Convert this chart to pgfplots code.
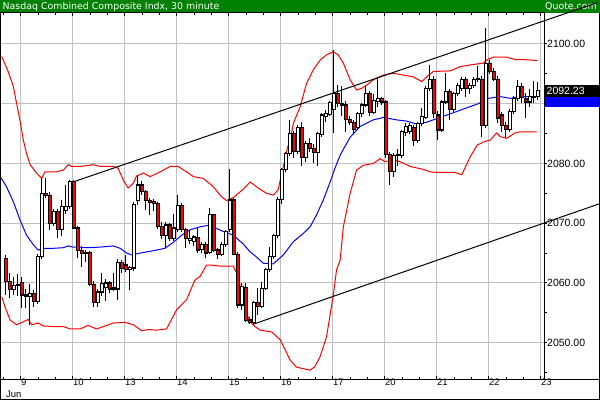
\documentclass[border=0pt]{standalone}
\usepackage{pgfplots}
\pgfplotsset{compat=1.18}
\usepackage{pgfplotstable}
\usepackage{fontspec}
\setmainfont{Liberation Sans}
\newfontfamily\titlefont{DejaVu Sans}
\definecolor{bannergreen}{RGB}{0,128,0}
\definecolor{gridgray}{RGB}{192,192,192}
\pgfdeclareplotmark{emptymark}{}

\pgfplotstableread{
x o h l c
-4 2064.1 2064.6 2058.0 2060.2
-3 2060.2 2061.6 2057.5 2058.9
-2 2058.9 2061.0 2058.0 2059.6
-1 2059.6 2061.5 2057.8 2059.8
0 2060.1 2061.0 2055.8 2058.0
1 2058.0 2059.0 2055.8 2057.7
2 2057.7 2059.8 2053.0 2058.3
3 2058.3 2058.8 2056.0 2056.9
4 2056.9 2064.8 2056.5 2064.4
5 2064.4 2077.5 2064.0 2075.0
6 2075.0 2077.6 2074.2 2074.6
7 2074.6 2075.2 2068.9 2070.0
8 2070.0 2072.4 2069.5 2071.9
9 2071.9 2072.3 2067.5 2069.0
10 2069.0 2073.9 2067.8 2072.8
11 2072.1 2076.4 2071.6 2072.8
12 2072.8 2077.2 2072.4 2077.0
13 2077.0 2077.2 2069.0 2069.2
14 2069.2 2069.6 2064.1 2065.4
15 2065.4 2066.2 2062.7 2064.9
16 2064.9 2065.6 2063.5 2065.1
17 2065.1 2065.4 2059.5 2059.8
18 2059.8 2060.3 2055.9 2056.7
19 2056.7 2059.0 2056.0 2058.5
20 2058.5 2061.7 2057.8 2059.9
21 2059.2 2060.6 2057.0 2060.0
22 2060.0 2060.4 2058.4 2059.0
23 2059.0 2061.7 2058.6 2059.2
24 2059.0 2064.0 2057.2 2063.4
25 2063.4 2063.8 2061.6 2062.4
26 2063.0 2064.6 2061.8 2062.3
27 2062.3 2062.9 2058.8 2062.6
28 2062.5 2073.5 2062.0 2073.1
29 2073.8 2078.1 2073.0 2076.4
30 2076.4 2077.0 2074.8 2075.3
31 2075.3 2075.6 2072.2 2073.8
32 2073.8 2074.2 2071.4 2073.5
33 2073.6 2074.0 2072.0 2073.3
34 2073.3 2073.6 2069.0 2069.5
35 2069.5 2070.2 2067.4 2067.9
36 2067.9 2070.2 2065.8 2069.7
37 2069.7 2070.0 2067.0 2067.5
38 2067.5 2071.5 2067.0 2069.2
39 2068.9 2074.7 2068.5 2073.0
40 2073.0 2073.4 2068.5 2068.9
41 2068.9 2069.2 2065.8 2067.4
42 2067.1 2068.9 2066.5 2067.5
43 2066.9 2068.0 2066.2 2067.7
44 2067.6 2069.4 2065.0 2065.5
45 2065.6 2066.8 2065.0 2066.4
46 2066.4 2066.8 2064.1 2065.0
47 2065.1 2072.5 2064.8 2071.4
48 2071.4 2071.6 2065.2 2065.4
49 2065.5 2065.8 2064.0 2064.8
50 2064.8 2066.8 2064.5 2066.4
51 2066.4 2068.8 2066.0 2068.6
52 2068.9 2079.1 2068.5 2073.9
53 2073.9 2074.2 2064.6 2064.8
54 2064.8 2065.2 2055.8 2056.3
55 2056.3 2060.0 2055.5 2059.4
56 2059.3 2060.0 2053.5 2053.7
57 2053.8 2054.3 2053.2 2053.4
58 2053.4 2056.9 2053.0 2056.7
59 2056.7 2059.2 2054.6 2056.1
60 2056.1 2060.2 2055.8 2059.1
61 2059.1 2062.5 2058.8 2062.3
62 2062.3 2066.0 2061.8 2064.4
63 2064.4 2068.2 2064.0 2067.9
64 2067.9 2074.4 2067.6 2074.0
65 2074.0 2079.3 2073.3 2079.0
66 2079.0 2082.0 2078.5 2081.7
67 2081.7 2087.3 2081.2 2085.0
68 2085.0 2085.5 2081.0 2082.0
69 2082.0 2086.4 2081.6 2086.0
70 2086.0 2087.0 2079.5 2081.0
71 2081.0 2083.8 2080.2 2083.4
72 2083.4 2084.2 2082.0 2082.5
73 2082.5 2083.2 2080.0 2081.8
74 2081.8 2085.3 2079.5 2085.0
75 2084.8 2088.5 2084.5 2088.1
76 2087.9 2089.0 2087.0 2088.3
77 2088.2 2090.5 2088.0 2090.2
78 2089.0 2099.0 2085.1 2091.7
79 2091.7 2093.1 2089.5 2090.1
80 2090.1 2092.9 2088.0 2089.8
81 2089.8 2090.4 2085.3 2087.3
82 2087.4 2088.0 2086.4 2086.8
83 2086.8 2087.2 2085.0 2085.7
84 2086.0 2088.6 2085.6 2088.3
85 2088.3 2090.2 2087.8 2089.8
86 2089.8 2092.9 2089.4 2091.7
87 2091.7 2092.1 2088.0 2088.5
88 2088.5 2091.7 2088.2 2090.6
89 2090.4 2094.5 2089.5 2090.9
90 2090.9 2091.2 2089.8 2090.3
91 2090.3 2090.6 2081.0 2081.5
92 2081.5 2082.0 2076.4 2078.6
93 2078.6 2081.8 2077.8 2081.4
94 2081.3 2082.4 2079.5 2081.5
95 2081.4 2085.6 2081.0 2085.3
96 2085.2 2086.8 2084.6 2086.2
97 2085.4 2086.8 2085.0 2086.3
98 2086.0 2086.4 2083.0 2083.9
99 2083.9 2087.0 2083.5 2086.7
100 2086.7 2089.3 2086.3 2087.8
101 2087.7 2092.9 2087.4 2092.6
102 2092.6 2096.5 2092.2 2094.1
103 2094.1 2094.6 2087.6 2088.4
104 2088.1 2088.8 2083.9 2085.6
105 2085.6 2090.6 2085.2 2090.3
106 2090.3 2095.1 2089.9 2092.0
107 2092.0 2092.5 2087.3 2089.0
108 2089.0 2092.0 2088.6 2091.7
109 2091.7 2093.5 2091.3 2093.1
110 2092.6 2094.5 2092.2 2094.1
111 2094.1 2094.5 2091.2 2092.6
112 2092.6 2093.4 2091.6 2093.1
113 2093.1 2094.4 2092.6 2094.0
114 2094.0 2096.4 2093.6 2094.2
115 2094.1 2094.6 2084.4 2086.4
116 2086.4 2102.6 2086.0 2096.8
117 2096.8 2097.3 2095.0 2095.4
118 2095.4 2096.0 2093.8 2094.1
119 2094.1 2094.6 2086.8 2087.6
120 2088.1 2088.6 2085.2 2086.4
121 2086.4 2087.0 2084.3 2085.7
122 2085.7 2089.2 2085.3 2088.7
123 2088.7 2091.3 2088.3 2090.9
124 2090.9 2094.0 2090.5 2092.9
125 2092.9 2093.4 2090.2 2091.0
126 2090.8 2091.8 2087.6 2090.3
127 2090.3 2092.5 2089.4 2091.2
128 2091.0 2093.8 2090.2 2091.2
129 2091.2 2093.7 2090.6 2092.2
}\candles

\pgfplotstableread{
x v
-5.0 2097.9
-3.4 2095.4
-2.1 2092.9
-1.3 2090.1
-0.3 2086.7
0.4 2083.9
1.2 2081.7
2.1 2079.8
3.7 2078.4
5.0 2077.5
5.8 2078.6
8.7 2078.6
10.4 2078.9
11.6 2079.8
12.5 2079.5
14.6 2079.5
17.9 2079.8
19.6 2079.5
22.9 2079.5
24.1 2079.2
25.4 2077.2
26.6 2075.9
27.9 2076.7
28.7 2077.9
30.4 2078.4
32.1 2077.8
34.6 2078.6
37.1 2079.5
39.1 2079.5
41.2 2078.6
42.9 2077.8
45.4 2077.5
47.9 2076.1
50.0 2074.4
51.2 2073.8
52.9 2074.3
55.4 2075.7
57.1 2076.9
59.1 2075.9
61.2 2075.0
62.9 2074.7
64.1 2075.6
65.0 2078.4
65.8 2080.6
66.4 2082.6
67.1 2083.9
67.9 2086.7
69.6 2089.5
71.2 2093.4
72.9 2095.7
74.6 2097.3
76.2 2098.2
77.9 2098.7
79.1 2098.2
80.4 2096.8
82.1 2094.0
83.7 2092.3
85.0 2092.6
86.2 2093.1
87.9 2094.0
90.4 2094.8
92.9 2095.1
95.4 2094.8
97.9 2094.5
100.0 2093.7
101.4 2094.6
102.9 2095.4
107.1 2095.5
109.6 2096.2
112.1 2096.5
115.4 2096.8
116.4 2097.4
117.9 2097.8
121.2 2097.8
123.3 2097.4
125.4 2097.4
127.5 2097.3
128.9 2097.2
}\upperband

\pgfplotstableread{
x v
-5.0 2057.7
-4.2 2056.0
-2.9 2053.8
-1.3 2053.0
0.4 2053.5
1.6 2053.9
2.5 2053.0
4.1 2053.3
5.4 2052.8
7.9 2052.7
10.4 2052.7
12.1 2052.3
14.6 2052.3
16.6 2052.9
18.7 2052.3
20.4 2052.7
22.9 2053.3
25.8 2053.4
27.9 2053.0
30.0 2052.0
31.6 2052.2
33.7 2052.1
36.2 2052.3
38.7 2055.5
41.2 2057.2
43.3 2060.5
44.6 2061.1
46.2 2063.0
47.5 2063.0
49.6 2062.8
52.9 2062.8
54.1 2061.1
55.8 2055.5
57.1 2053.5
58.3 2052.7
59.6 2052.1
62.5 2051.8
64.6 2050.5
67.1 2047.1
68.7 2045.9
72.1 2045.4
73.3 2046.0
74.6 2047.7
76.2 2051.0
77.9 2058.0
78.7 2062.2
79.6 2063.8
80.4 2069.4
82.1 2075.0
83.7 2078.9
85.4 2079.7
87.9 2080.0
89.6 2080.8
90.8 2080.3
92.9 2080.6
94.6 2080.3
97.1 2079.5
100.4 2079.0
102.1 2078.6
103.7 2078.5
108.3 2078.5
110.0 2078.1
112.1 2081.1
113.9 2083.1
115.8 2083.7
117.1 2083.9
118.7 2085.1
119.6 2084.5
121.2 2084.2
123.3 2085.1
124.6 2085.3
128.7 2085.3
}\lowerband

\pgfplotstableread{
x v
-5.19 2077.6
-3.8 2076.1
-2.1 2073.6
-0.4 2070.5
1.2 2068.0
2.9 2066.4
4.1 2065.5
5.4 2065.8
7.9 2065.8
10.4 2065.9
11.6 2066.2
12.9 2066.0
16.2 2065.9
19.6 2066.0
22.9 2066.2
24.6 2065.8
26.2 2065.0
27.5 2064.7
29.6 2065.0
32.9 2065.4
35.8 2065.8
37.9 2066.8
40.0 2068.0
42.1 2068.9
44.6 2069.4
47.1 2069.7
49.1 2069.0
50.8 2068.5
52.9 2068.0
55.4 2066.5
57.1 2065.2
58.6 2064.4
60.4 2063.3
62.9 2063.2
65.4 2064.7
67.9 2066.9
70.4 2068.3
72.1 2069.4
73.7 2071.4
75.4 2073.9
77.1 2076.9
78.3 2079.2
79.6 2081.4
82.1 2084.4
84.6 2086.2
87.9 2087.3
90.4 2087.7
93.7 2087.3
96.2 2087.1
98.7 2086.6
101.2 2086.9
103.7 2087.5
107.1 2088.3
111.2 2089.3
114.1 2090.0
116.6 2090.9
119.6 2091.2
122.1 2090.9
124.6 2091.2
128.8 2091.2
}\mavg

\begin{document}
\begin{tikzpicture}[x=1pt,y=1pt]
\fill[white] (0,0) rectangle (600,400);
\fill[bannergreen] (0,387) rectangle (600,400);
\node[anchor=base west, inner sep=0pt, text=white, font=\titlefont\fontsize{9.4}{11}\selectfont] at (2.5,390.8) {Nasdaq Combined Composite Indx, 30 minute};
\node[anchor=base east, inner sep=0pt, text=white, font=\titlefont\fontsize{9.4}{11}\selectfont] at (597,390.8) {Quote.com};
\begin{axis}[
  at={(1pt,21pt)}, anchor=south west,
  x=4pt, y=5.974pt,
  xmin=-5.1875, xmax=130.5625,
  ymin=2043.923, ymax=2105.189,
  clip=false,
  axis line style={line width=1pt, black},
  xtick={-0.2,12.8,25.8,38.8,51.8,64.8,77.8,90.8,103.8,116.8,129.8},
  xticklabels={9,10,13,14,15,16,17,20,21,22,23},
  minor xtick={-4.45,4.3,8.55,17.3,21.55,30.3,34.55,43.3,47.55,56.3,60.55,69.3,73.55,82.3,86.55,95.3,99.55,108.3,112.55,121.3,125.55},
  ytick={2050,2060,2070,2080,2090,2100},
  yticklabels={2050.00,2060.00,2070.00,2080.00,2090.00,2100.00},
  minor ytick={2045,2055,2065,2075,2085,2095},
  xtick pos=both, ytick pos=right,
  xticklabel pos=bottom,
  yticklabel pos=right,
  tick align=outside,
  xtick align=inside,
  major tick length=3pt, minor tick length=2.5pt,
  tick style={black, line width=1pt},
  grid=major,
  major grid style={gridgray, line width=1pt},
  xticklabel style={anchor=north west, inner sep=0pt, font=\fontsize{9.5}{11}\selectfont},
  yticklabel style={anchor=west, inner sep=0pt, font=\fontsize{10.5}{12}\selectfont},
]
\addplot[red, line width=1pt, mark=none] table[x=x,y=v]{\upperband};
\addplot[red, line width=1pt, mark=none] table[x=x,y=v]{\lowerband};
\addplot[blue, line width=1pt, mark=none] table[x=x,y=v]{\mavg};
\addplot[black, line width=1pt, mark=none] coordinates {(12.8,2076.9) (143.8,2106.9)};
\addplot[black, line width=1pt, mark=none] coordinates {(57.9,2053.1) (144.6,2073.3)};
\addplot[
  scatter, only marks, mark=emptymark,
  visualization depends on={\thisrow{o}-\thisrow{c} \as \doc},
  visualization depends on={\thisrow{h}-\thisrow{c} \as \dhc},
  visualization depends on={\thisrow{l}-\thisrow{c} \as \dlc},
  scatter/@pre marker code/.code={%
    \pgfkeys{/pgf/fpu=true,/pgf/fpu/output format=fixed}%
    \pgfmathsetmacro\yo{\doc*5.974}%
    \pgfmathsetmacro\yh{\dhc*5.974}%
    \pgfmathsetmacro\yl{\dlc*5.974}%
    \pgfkeys{/pgf/fpu=false}%
    \draw[black, line width=1.2pt] (0pt,\yl pt) -- (0pt,\yh pt);%
    \ifdim\yo pt>0pt
      \filldraw[fill=red, draw=black, line width=1.2pt] (-1.6pt,0pt) rectangle (1.6pt,\yo pt);%
    \else
      \filldraw[fill=white, draw=black, line width=1.2pt] (-1.6pt,0pt) rectangle (1.6pt,\yo pt);%
    \fi
  },
  scatter/@post marker code/.code={},
] table[x=x,y=c]{\candles};
\end{axis}
\draw[black, line width=1pt] (544,21) -- (600,21);
\fill[black] (544.5,303) rectangle (600,315);
\fill[blue] (544.5,293) rectangle (600,303);
\node[anchor=west, inner sep=0pt, text=white, font=\fontsize{10.5}{12}\selectfont] at (546.5,309) {2092.23};
\node[anchor=north west, inner sep=0pt, font=\fontsize{9.5}{11}\selectfont] at (6,9.5) {Jun};
\draw[black, line width=1pt] (0.5,387) -- (0.5,0.5) -- (599.5,0.5) -- (599.5,387);
\pgfresetboundingbox
\useasboundingbox (0,0) rectangle (600,400);
\end{tikzpicture}
\end{document}
